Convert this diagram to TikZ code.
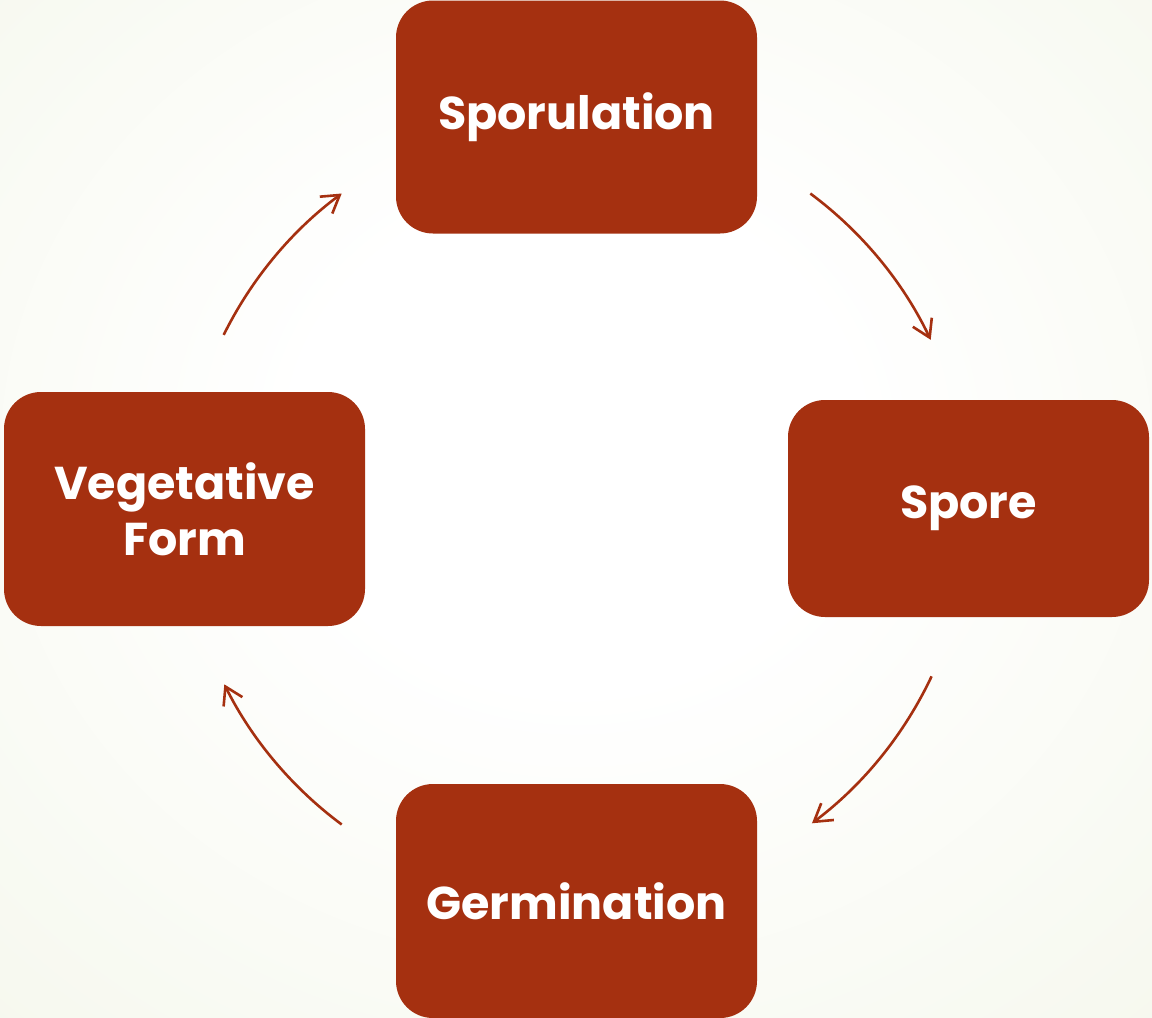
\documentclass[tikz,border=0pt]{standalone}
\usepackage{fontspec}
\setmainfont{Poppins}
\usetikzlibrary{arrows.meta,calc}
\definecolor{boxred}{HTML}{A53010}
\pgfdeclareradialshading{bgglow}{\pgfpoint{0bp}{4bp}}{%
  color(0bp)=(white); color(12bp)=(white);
  color(38bp)=(rgb,255:red,246;green,248;blue,238);
  color(58bp)=(rgb,255:red,238;green,242;blue,226);
  color(75bp)=(rgb,255:red,232;green,238;blue,216)}
\tikzset{
  stagebox/.style={fill=boxred, draw=none, rounded corners=37pt, text=white,
    font=\fontsize{46}{56}\selectfont\bfseries, align=center, inner sep=0pt},
  cyclearrow/.style={draw=boxred, line width=2.6pt,
    -{Straight Barb[length=17pt,width=21pt,line width=2.6pt]}}
}
\begin{document}
\begin{tikzpicture}[x=1pt,y=1pt]
\useasboundingbox (0,0) rectangle (1152,-1018);
\shade[shading=bgglow] (0,0) rectangle (1152,-1018);
\node[stagebox, minimum width=361pt, minimum height=233pt] (spor) at (576.5,-117) {Sporulation};
\node[stagebox, minimum width=361pt, minimum height=217pt] (spore) at (968.5,-508.5) {Spore};
\node[stagebox, minimum width=361pt, minimum height=234pt] (germ) at (576.5,-901) {Germination};
\node[stagebox, minimum width=361pt, minimum height=234pt] (veg) at (184.5,-509) {Vegetative\\Form};
\coordinate (c) at (576,-509);
\coordinate (a1) at ($(c)+(153.7:393)$);
\coordinate (a2) at ($(c)+(53.4:393)$);
\coordinate (a3) at ($(c)+(-25.2:393)$);
\coordinate (a4) at ($(c)+(-126.6:393)$);
\draw[cyclearrow] (a1) arc[start angle=153.7, end angle=126.6, radius=393];
\draw[cyclearrow] (a2) arc[start angle=53.4, end angle=25.5, radius=393];
\draw[cyclearrow] (a3) arc[start angle=-25.2, end angle=-53.1, radius=393];
\draw[cyclearrow] (a4) arc[start angle=-126.6, end angle=-153.5, radius=393];
\end{tikzpicture}
\end{document}
